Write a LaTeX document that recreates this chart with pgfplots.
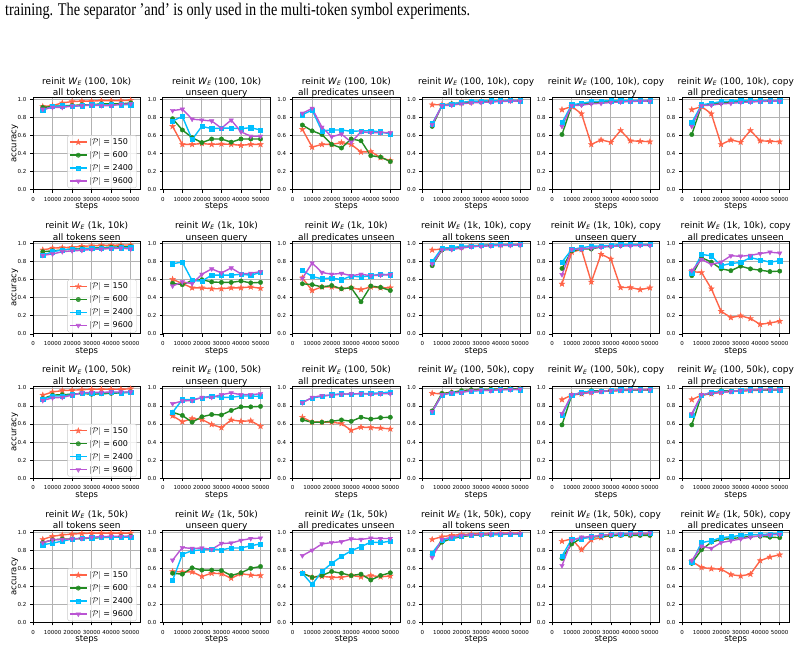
\documentclass[border=0pt]{standalone}
\usepackage{graphicx}
\usepackage{fontspec}
\setmainfont{DejaVu Sans}
\newfontfamily\bodyserif{Liberation Serif}
\usepackage{pgfplots}
\pgfplotsset{compat=1.18}
\usepackage{pgfplotstable}
\usetikzlibrary{plotmarks}

\definecolor{cA}{RGB}{255,99,71}
\definecolor{cB}{RGB}{34,139,34}
\definecolor{cC}{RGB}{0,191,255}
\definecolor{cD}{RGB}{186,85,211}

% filled five-pointed star
\pgfdeclareplotmark{fstar}{%
  \pgfpathmoveto{\pgfpointpolar{90}{1.3\pgfplotmarksize}}%
  \pgfpathlineto{\pgfpointpolar{126}{0.52\pgfplotmarksize}}%
  \pgfpathlineto{\pgfpointpolar{162}{1.3\pgfplotmarksize}}%
  \pgfpathlineto{\pgfpointpolar{198}{0.52\pgfplotmarksize}}%
  \pgfpathlineto{\pgfpointpolar{234}{1.3\pgfplotmarksize}}%
  \pgfpathlineto{\pgfpointpolar{270}{0.52\pgfplotmarksize}}%
  \pgfpathlineto{\pgfpointpolar{306}{1.3\pgfplotmarksize}}%
  \pgfpathlineto{\pgfpointpolar{342}{0.52\pgfplotmarksize}}%
  \pgfpathlineto{\pgfpointpolar{18}{1.3\pgfplotmarksize}}%
  \pgfpathlineto{\pgfpointpolar{54}{0.52\pgfplotmarksize}}%
  \pgfpathclose
  \pgfusepathqfillstroke}

\newcommand{\WE}{\textit{W}\textsubscript{\textit{E}}}

\pgfplotsset{
  sA/.style={color=cA, line width=1.4pt, mark=fstar, mark size=2.3pt, mark options={solid, line width=0.4pt}},
  sB/.style={color=cB, line width=1.4pt, mark=*, mark size=2.2pt, mark options={solid, line width=0.4pt}},
  sC/.style={color=cC, line width=1.4pt, mark=square*, mark size=2.1pt, mark options={solid, line width=0.4pt}},
  sD/.style={color=cD, line width=1.4pt, mark=triangle*, mark size=2.6pt, mark options={solid, rotate=180, line width=0.4pt}},
  panel/.style={
    scale only axis, width=107.5pt, height=92pt, anchor=south west,
    xmin=0, xmax=55000, ymin=0, ymax=1.02,
    scaled x ticks=false, scaled y ticks=false,
    xtick={0,10000,20000,30000,40000,50000},
    xticklabels={0,10000,20000,30000,40000,50000},
    ytick={0,0.2,0.4,0.6,0.8,1},
    yticklabels={0.0,0.2,0.4,0.6,0.8,1.0},
    tick pos=left, tick align=outside, major tick length=3pt,
    tick style={black, line width=0.6pt},
    ticklabel style={font=\fontsize{5.5}{6}\selectfont},
    xticklabel style={anchor=north, inner sep=0pt},
    xticklabel shift={4.5pt},
    grid=major, major grid style={draw=black!30, line width=0.8pt},
    axis line style={black, line width=0.8pt},
    xlabel={steps},
    xlabel style={font=\fontsize{8.5}{9}\selectfont, at={(axis description cs:0.5,-0.21)}, anchor=base},
    ylabel style={font=\fontsize{8.5}{9}\selectfont, at={(axis description cs:-0.155,0.5)}, anchor=base},
    title style={font=\fontsize{9}{11.5}\selectfont, align=center, at={(axis description cs:0.5,1)}, anchor=south, inner sep=0pt, yshift=-8pt},
    legend style={at={(0.965,0.015)}, anchor=south east, draw=black!20, fill=white,
      fill opacity=0.8, draw opacity=1, text opacity=1, rounded corners=1.5pt,
      font=\fontsize{8}{9.5}\selectfont, inner xsep=1.5pt, inner ysep=1pt, row sep=1.5pt},
    legend cell align=left,
  },
  withlegend/.style={ylabel={accuracy},
    legend entries={{$|\mathcal{P}|$ = 150},{$|\mathcal{P}|$ = 600},{$|\mathcal{P}|$ = 2400},{$|\mathcal{P}|$ = 9600}}},
}

% #1 left edge, #2 bottom edge, #3 table, #4 #5 title lines, #6 extra keys
\newcommand{\panel}[6]{%
  \begin{axis}[panel, at={(#1pt,-#2pt)}, title={#4\\#5\strut}, #6]
    \addplot[sA] table[x=x,y=a]{#3};
    \addplot[sB] table[x=x,y=b]{#3};
    \addplot[sC] table[x=x,y=c]{#3};
    \addplot[sD] table[x=x,y=d]{#3};
  \end{axis}}

% columns: a = |P|=150, b = 600, c = 2400, d = 9600
\pgfplotstableread{
x a b c d
5000 0.92 0.91 0.88 0.89
10000 0.93 0.92 0.92 0.91
15000 0.96 0.93 0.93 0.91
20000 0.975 0.93 0.92 0.925
25000 0.98 0.94 0.93 0.93
30000 0.98 0.94 0.94 0.935
35000 0.985 0.95 0.94 0.93
40000 0.985 0.95 0.94 0.93
45000 0.985 0.95 0.94 0.945
50000 0.99 0.96 0.94 0.95
}\taa
\pgfplotstableread{
x a b c d
5000 0.70 0.785 0.76 0.875
10000 0.50 0.66 0.81 0.89
15000 0.50 0.575 0.555 0.78
20000 0.51 0.52 0.70 0.77
25000 0.50 0.56 0.675 0.76
30000 0.505 0.56 0.68 0.68
35000 0.50 0.525 0.68 0.77
40000 0.49 0.56 0.675 0.64
45000 0.50 0.56 0.685 0.59
50000 0.50 0.56 0.66 0.59
}\tab
\pgfplotstableread{
x a b c d
5000 0.667 0.715 0.83 0.845
10000 0.47 0.65 0.88 0.90
15000 0.50 0.61 0.65 0.69
20000 0.50 0.50 0.66 0.585
25000 0.52 0.46 0.66 0.615
30000 0.50 0.56 0.645 0.525
35000 0.415 0.54 0.65 0.64
40000 0.42 0.375 0.65 0.63
45000 0.355 0.36 0.64 0.63
50000 0.32 0.31 0.615 0.63
}\tac
\pgfplotstableread{
x a b c d
5000 0.94 0.70 0.73 0.72
10000 0.94 0.93 0.93 0.93
15000 0.95 0.95 0.95 0.935
20000 0.96 0.96 0.965 0.95
25000 0.97 0.97 0.98 0.96
30000 0.975 0.975 0.98 0.965
35000 0.98 0.98 0.985 0.97
40000 0.98 0.98 0.985 0.975
45000 0.985 0.985 0.99 0.98
50000 0.985 0.98 0.985 0.98
}\tad
\pgfplotstableread{
x a b c d
5000 0.885 0.61 0.74 0.70
10000 0.92 0.93 0.94 0.93
15000 0.84 0.945 0.955 0.935
20000 0.50 0.96 0.975 0.95
25000 0.55 0.97 0.98 0.955
30000 0.525 0.975 0.985 0.965
35000 0.655 0.98 0.985 0.97
40000 0.54 0.98 0.985 0.975
45000 0.535 0.98 0.985 0.98
50000 0.53 0.98 0.985 0.98
}\tae
\pgfplotstableread{
x a b c d
5000 0.93 0.91 0.87 0.87
10000 0.95 0.92 0.91 0.885
15000 0.955 0.93 0.93 0.91
20000 0.96 0.94 0.94 0.92
25000 0.97 0.945 0.94 0.925
30000 0.975 0.95 0.945 0.935
35000 0.98 0.955 0.95 0.94
40000 0.98 0.96 0.95 0.945
45000 0.985 0.965 0.955 0.95
50000 0.985 0.965 0.955 0.94
}\tba
\pgfplotstableread{
x a b c d
5000 0.605 0.56 0.777 0.53
10000 0.557 0.545 0.795 0.575
15000 0.51 0.59 0.59 0.556
20000 0.51 0.60 0.585 0.66
25000 0.50 0.575 0.65 0.72
30000 0.50 0.57 0.65 0.675
35000 0.51 0.57 0.65 0.73
40000 0.51 0.585 0.66 0.665
45000 0.52 0.565 0.65 0.67
50000 0.505 0.57 0.68 0.69
}\tbb
\pgfplotstableread{
x a b c d
5000 0.62 0.555 0.705 0.615
10000 0.48 0.545 0.635 0.785
15000 0.52 0.52 0.61 0.68
20000 0.52 0.535 0.62 0.66
25000 0.50 0.50 0.60 0.67
30000 0.51 0.51 0.64 0.645
35000 0.49 0.355 0.63 0.66
40000 0.52 0.53 0.645 0.645
45000 0.51 0.515 0.66 0.65
50000 0.51 0.48 0.655 0.655
}\tbc
\pgfplotstableread{
x a b c d
5000 0.93 0.755 0.80 0.775
10000 0.94 0.93 0.95 0.93
15000 0.95 0.94 0.955 0.935
20000 0.96 0.96 0.97 0.95
25000 0.975 0.97 0.975 0.965
30000 0.98 0.98 0.98 0.97
35000 0.985 0.98 0.985 0.975
40000 0.985 0.985 0.99 0.98
45000 0.99 0.985 0.99 0.98
50000 0.99 0.985 0.99 0.985
}\tbd
\pgfplotstableread{
x a b c d
5000 0.553 0.725 0.795 0.655
10000 0.905 0.92 0.935 0.935
15000 0.935 0.94 0.955 0.94
20000 0.575 0.94 0.97 0.95
25000 0.883 0.965 0.975 0.96
30000 0.83 0.97 0.98 0.97
35000 0.513 0.978 0.99 0.975
40000 0.513 0.985 0.99 0.975
45000 0.49 0.985 0.99 0.98
50000 0.51 0.985 0.99 0.98
}\tbe
\pgfplotstableread{
x a b c d
5000 0.69 0.645 0.67 0.70
10000 0.68 0.845 0.88 0.825
15000 0.50 0.795 0.865 0.77
20000 0.25 0.72 0.755 0.795
25000 0.18 0.70 0.78 0.865
30000 0.20 0.75 0.79 0.86
35000 0.17 0.72 0.845 0.87
40000 0.105 0.705 0.82 0.89
45000 0.12 0.69 0.795 0.905
50000 0.14 0.695 0.81 0.895
}\tbf
\pgfplotstableread{
x a b c d
5000 0.92 0.88 0.875 0.86
10000 0.955 0.92 0.91 0.89
15000 0.97 0.925 0.91 0.895
20000 0.975 0.93 0.925 0.92
25000 0.98 0.94 0.94 0.945
30000 0.985 0.93 0.945 0.95
35000 0.985 0.935 0.945 0.95
40000 0.985 0.94 0.95 0.955
45000 0.985 0.945 0.945 0.955
50000 0.99 0.955 0.95 0.955
}\tca
\pgfplotstableread{
x a b c d
5000 0.69 0.73 0.73 0.825
10000 0.625 0.695 0.87 0.855
15000 0.66 0.62 0.87 0.86
20000 0.65 0.68 0.89 0.895
25000 0.595 0.705 0.91 0.895
30000 0.56 0.70 0.895 0.925
35000 0.645 0.75 0.895 0.945
40000 0.63 0.79 0.91 0.925
45000 0.635 0.79 0.91 0.925
50000 0.575 0.795 0.905 0.935
}\tcb
\pgfplotstableread{
x a b c d
5000 0.675 0.645 0.84 0.835
10000 0.62 0.62 0.89 0.895
15000 0.62 0.62 0.905 0.915
20000 0.62 0.63 0.925 0.92
25000 0.605 0.645 0.935 0.93
30000 0.53 0.63 0.93 0.935
35000 0.565 0.675 0.935 0.935
40000 0.56 0.655 0.94 0.93
45000 0.555 0.67 0.945 0.935
50000 0.545 0.675 0.955 0.935
}\tcc
\pgfplotstableread{
x a b c d
5000 0.94 0.745 0.735 0.74
10000 0.935 0.94 0.92 0.925
15000 0.95 0.95 0.945 0.945
20000 0.96 0.97 0.955 0.95
25000 0.97 0.98 0.965 0.97
30000 0.975 0.985 0.97 0.975
35000 0.98 0.985 0.975 0.97
40000 0.985 0.99 0.98 0.98
45000 0.99 0.99 0.985 0.98
50000 0.99 0.99 0.98 0.985
}\tcd
\pgfplotstableread{
x a b c d
5000 0.87 0.59 0.70 0.715
10000 0.92 0.92 0.915 0.925
15000 0.935 0.94 0.955 0.94
20000 0.95 0.97 0.96 0.95
25000 0.96 0.965 0.965 0.96
30000 0.965 0.97 0.97 0.97
35000 0.97 0.975 0.98 0.975
40000 0.975 0.975 0.98 0.98
45000 0.975 0.98 0.98 0.98
50000 0.975 0.98 0.98 0.98
}\tce
\pgfplotstableread{
x a b c d
5000 0.92 0.885 0.86 0.885
10000 0.955 0.915 0.88 0.915
15000 0.97 0.925 0.90 0.92
20000 0.98 0.925 0.925 0.925
25000 0.985 0.93 0.935 0.93
30000 0.99 0.935 0.94 0.945
35000 0.99 0.94 0.945 0.95
40000 0.99 0.945 0.945 0.955
45000 0.99 0.95 0.945 0.955
50000 0.99 0.955 0.945 0.955
}\tda
\pgfplotstableread{
x a b c d
5000 0.565 0.545 0.465 0.69
10000 0.56 0.535 0.755 0.83
15000 0.56 0.605 0.795 0.82
20000 0.51 0.58 0.805 0.825
25000 0.545 0.58 0.815 0.81
30000 0.54 0.575 0.805 0.875
35000 0.49 0.52 0.825 0.88
40000 0.54 0.55 0.825 0.91
45000 0.525 0.60 0.85 0.93
50000 0.52 0.62 0.87 0.935
}\tdb
\pgfplotstableread{
x a b c d
5000 0.545 0.545 0.545 0.74
10000 0.50 0.50 0.42 0.80
15000 0.51 0.52 0.565 0.87
20000 0.50 0.565 0.655 0.885
25000 0.50 0.545 0.73 0.895
30000 0.52 0.52 0.795 0.925
35000 0.505 0.535 0.84 0.92
40000 0.52 0.47 0.89 0.935
45000 0.505 0.52 0.885 0.93
50000 0.515 0.55 0.90 0.93
}\tdc
\pgfplotstableread{
x a b c d
5000 0.92 0.75 0.77 0.72
10000 0.95 0.89 0.91 0.92
15000 0.965 0.93 0.935 0.945
20000 0.975 0.95 0.96 0.965
25000 0.98 0.965 0.97 0.97
30000 0.985 0.97 0.975 0.975
35000 0.985 0.97 0.975 0.98
40000 0.99 0.975 0.98 0.985
45000 0.99 0.98 0.98 0.985
50000 0.99 0.98 0.98 0.985
}\tdd
\pgfplotstableread{
x a b c d
5000 0.90 0.71 0.735 0.63
10000 0.925 0.87 0.925 0.91
15000 0.805 0.935 0.925 0.945
20000 0.915 0.945 0.95 0.95
25000 0.94 0.955 0.965 0.965
30000 0.965 0.96 0.975 0.975
35000 0.97 0.965 0.98 0.98
40000 0.97 0.965 0.985 0.98
45000 0.975 0.965 0.985 0.985
50000 0.975 0.965 0.985 0.99
}\tde
\pgfplotstableread{
x a b c d
5000 0.675 0.655 0.665 0.685
10000 0.61 0.805 0.885 0.845
15000 0.595 0.89 0.905 0.82
20000 0.59 0.92 0.94 0.885
25000 0.53 0.93 0.95 0.905
30000 0.515 0.94 0.965 0.925
35000 0.535 0.955 0.975 0.945
40000 0.685 0.955 0.975 0.96
45000 0.725 0.945 0.98 0.97
50000 0.75 0.94 0.985 0.975
}\tdf

\begin{document}
\begin{tikzpicture}
\useasboundingbox (0,0) rectangle (800pt,-649pt);
\node[anchor=base west, inner sep=0pt] at (5pt,-15.7pt)
  {\resizebox{465pt}{12.4pt}{\bodyserif training. The separator ’and’ is only used in the multi-token symbol experiments.}};

% row 1: (100, 10k)
\panel{33}{189.5}{\taa}{reinit \WE{} (100, 10k)}{all tokens seen}{withlegend}
\panel{162.8}{189.5}{\tab}{reinit \WE{} (100, 10k)}{unseen query}{}
\panel{292.6}{189.5}{\tac}{reinit \WE{} (100, 10k)}{all predicates unseen}{}
\panel{422.4}{189.5}{\tad}{reinit \WE{} (100, 10k), copy}{all tokens seen}{}
\panel{552.2}{189.5}{\tae}{reinit \WE{} (100, 10k), copy}{unseen query}{}
\panel{682}{189.5}{\tae}{reinit \WE{} (100, 10k), copy}{all predicates unseen}{}
% row 2: (1k, 10k)
\panel{33}{333.8}{\tba}{reinit \WE{} (1k, 10k)}{all tokens seen}{withlegend}
\panel{162.8}{333.8}{\tbb}{reinit \WE{} (1k, 10k)}{unseen query}{}
\panel{292.6}{333.8}{\tbc}{reinit \WE{} (1k, 10k)}{all predicates unseen}{}
\panel{422.4}{333.8}{\tbd}{reinit \WE{} (1k, 10k), copy}{all tokens seen}{}
\panel{552.2}{333.8}{\tbe}{reinit \WE{} (1k, 10k), copy}{unseen query}{}
\panel{682}{333.8}{\tbf}{reinit \WE{} (1k, 10k), copy}{all predicates unseen}{}
% row 3: (100, 50k)
\panel{33}{478.1}{\tca}{reinit \WE{} (100, 50k)}{all tokens seen}{withlegend}
\panel{162.8}{478.1}{\tcb}{reinit \WE{} (100, 50k)}{unseen query}{}
\panel{292.6}{478.1}{\tcc}{reinit \WE{} (100, 50k)}{all predicates unseen}{}
\panel{422.4}{478.1}{\tcd}{reinit \WE{} (100, 50k), copy}{all tokens seen}{}
\panel{552.2}{478.1}{\tce}{reinit \WE{} (100, 50k), copy}{unseen query}{}
\panel{682}{478.1}{\tce}{reinit \WE{} (100, 50k), copy}{all predicates unseen}{}
% row 4: (1k, 50k)
\panel{33}{622.4}{\tda}{reinit \WE{} (1k, 50k)}{all tokens seen}{withlegend}
\panel{162.8}{622.4}{\tdb}{reinit \WE{} (1k, 50k)}{unseen query}{}
\panel{292.6}{622.4}{\tdc}{reinit \WE{} (1k, 50k)}{all predicates unseen}{}
\panel{422.4}{622.4}{\tdd}{reinit \WE{} (1k, 50k), copy}{all tokens seen}{}
\panel{552.2}{622.4}{\tde}{reinit \WE{} (1k, 50k), copy}{unseen query}{}
\panel{682}{622.4}{\tdf}{reinit \WE{} (1k, 50k), copy}{all predicates unseen}{}
\end{tikzpicture}
\end{document}
